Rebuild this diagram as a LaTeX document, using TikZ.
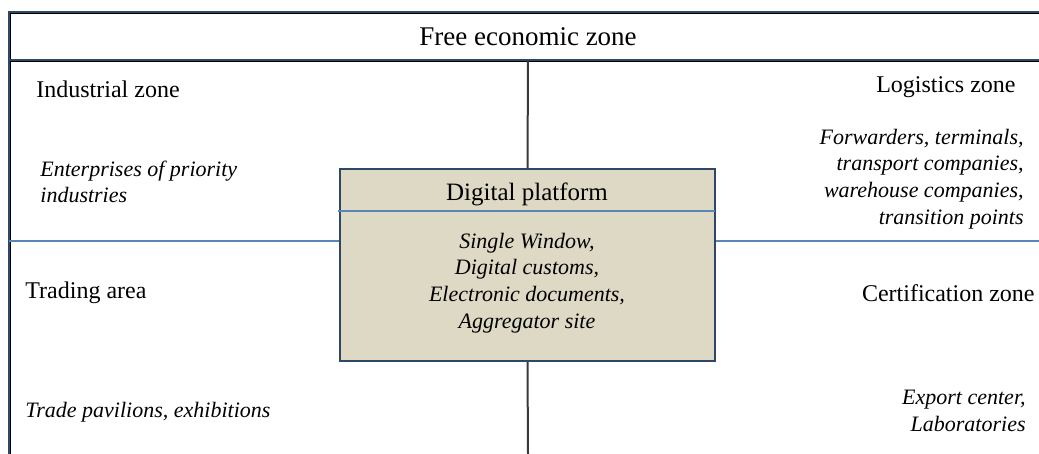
\documentclass[tikz,border=0pt]{standalone}
\usepackage{fontspec}
\setmainfont{Liberation Serif}
\definecolor{navy}{HTML}{2C4866}
\definecolor{rulecol}{HTML}{5A86B6}
\definecolor{shade}{HTML}{D3E0EE}
\definecolor{tanfill}{HTML}{DDD9C4}
\definecolor{stem}{HTML}{3A3A3A}
\begin{document}
\begin{tikzpicture}[x=0.5pt,y=-0.5pt,
  heading/.style={inner sep=0pt, font=\fontsize{12}{14}\selectfont},
  bigheading/.style={inner sep=0pt, font=\fontsize{13.5}{16}\selectfont},
  note/.style={inner sep=0pt, font=\fontsize{11}{13.3}\selectfont\itshape},
  frame/.style={navy, line width=1pt},
  frameshade/.style={shade, line width=0.5pt},
  divider/.style={rulecol, line width=0.7pt},
  stemline/.style={stem, line width=1pt},
  platform/.style={draw=navy, fill=tanfill, line width=1pt, minimum width=187.5pt, minimum height=96pt, inner sep=0pt}]
\useasboundingbox (0,0) rectangle (1039,454);

% outer frame: header band and left edge
\draw[frameshade] (10,13.8) -- (1039,13.8);
\draw[frameshade] (10,61.8) -- (1039,61.8);
\draw[frameshade] (10.8,13) -- (10.8,454);
\draw[frame] (9,12) -- (1039,12);
\draw[frame] (9,60) -- (1039,60);
\draw[frame] (9,11.5) -- (9,454);

% anchor points for the cross
\coordinate (hdrbot) at (528,60);
\coordinate (pagebot) at (528,454);
\coordinate (leftedge) at (9,241);
\coordinate (rightedge) at (1039,241);

% central platform
\node[platform] (box) at (527.5,265) {};
\coordinate (splitL) at (338,211);
\coordinate (splitR) at (715,211);

% cross lines
\draw[divider] (leftedge) -- (leftedge -| box.west);
\draw[divider] (rightedge -| box.east) -- (rightedge);
\draw[stemline] (hdrbot) -- (box.north);
\draw[stemline] (box.south) -- (pagebot);
\draw[divider] (splitL) -- (splitR);

% texts
\node[bigheading] (title) at (528,37) {Free economic zone};
\node[heading, anchor=west] (ind) at (36,89) {Industrial zone};
\node[heading, anchor=east] (log) at (1016,87) {Logistics zone};
\node[heading, anchor=west] (trade) at (25,293) {Trading area};
\node[heading, anchor=east] (cert) at (1035,293) {Certification zone};

\node[note, anchor=west, align=left] (indtxt) at (40,182) {Enterprises of priority\\industries};
\node[note, anchor=east, align=right] (logtxt) at (1024,179) {Forwarders, terminals,\\transport companies,\\warehouse companies,\\transition points};
\node[note, anchor=west, align=left] (tradetxt) at (25,412) {Trade pavilions, exhibitions};
\node[note, anchor=east, align=right] (certtxt) at (1026,411) {Export center,\\Laboratories};

\node[heading, font=\fontsize{12.5}{15}\selectfont] (boxtitle) at (527,194) {Digital platform};
\node[note, align=center] (boxtxt) at (527,283) {Single Window,\\Digital customs,\\Electronic documents,\\Aggregator site};
\end{tikzpicture}
\end{document}
